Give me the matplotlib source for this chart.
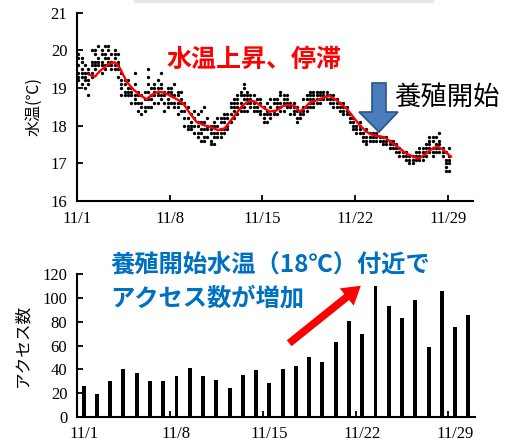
import numpy as np
import matplotlib
matplotlib.use('Agg')
import matplotlib.pyplot as plt
from matplotlib.patches import Polygon
from matplotlib.transforms import IdentityTransform

plt.rcParams['font.family'] = ['Noto Sans CJK JP', 'DejaVu Sans']

# --- top chart: water temperature (days since 11/1) ---
dot_start, dot_step = 0.1, 0.25
dot_temps = [
    [19.2, 19.3, 19.4, 19.6, 19.8, 19.9], [19.1, 19.3, 19.4, 19.5, 19.7, 19.8],
    [19.0, 19.2, 19.3, 19.4, 19.6], [18.8, 19.1, 19.2, 19.4, 19.5],
    [19.3, 19.4, 19.6, 19.7, 20.0], [19.5, 19.6, 19.7, 19.9, 20.0],
    [19.6, 19.7, 19.8, 20.1], [19.4, 19.6, 19.7, 19.9, 20.0],
    [19.5, 19.6, 19.8, 19.9, 20.1], [19.6, 19.7, 19.8, 20.0, 20.1],
    [19.5, 19.6, 19.7, 19.9], [19.5, 19.6, 19.8, 19.9, 20.0],
    [19.3, 19.5, 19.6, 19.7, 19.9], [18.8, 19.0, 19.1, 19.2, 19.4],
    [18.8, 18.9, 19.1, 19.2], [18.8, 18.9, 19.0, 19.2],
    [18.6, 18.8, 18.9, 19.0], [18.6, 18.7, 18.8, 19.1, 19.4],
    [18.4, 18.6, 18.8, 18.9], [18.3, 18.5, 18.6, 18.8],
    [18.4, 18.5, 18.7, 18.9], [18.5, 18.7, 18.9, 19.1, 19.3, 19.5],
    [18.5, 18.7, 18.8, 19.0], [18.6, 18.8, 18.9, 19.0, 19.1],
    [18.6, 18.8, 18.9, 19.0, 19.2], [18.7, 18.8, 19.0, 19.1, 19.4],
    [18.4, 18.6, 18.8, 18.9], [18.5, 18.6, 18.7, 18.9, 19.0],
    [18.6, 18.8, 18.9, 19.0], [18.5, 18.6, 18.8, 19.1],
    [18.3, 18.5, 18.6, 18.8, 18.9], [18.4, 18.6, 18.7, 18.9],
    [18.0, 18.2, 18.4, 18.6], [17.9, 18.0, 18.2, 18.5],
    [17.9, 18.0, 18.1, 18.3], [17.8, 18.0, 18.2, 18.4],
    [17.7, 17.8, 18.0, 18.1, 18.3], [17.6, 17.8, 17.9, 18.1, 18.4],
    [17.6, 17.7, 17.9, 18.1, 18.5], [17.7, 17.9, 18.0, 18.2],
    [17.5, 17.6, 17.8, 17.9, 18.0], [17.5, 17.7, 17.8, 18.0, 18.1],
    [17.7, 17.8, 18.0, 18.2], [17.7, 17.8, 17.9, 18.1, 18.2],
    [17.8, 17.9, 18.1, 18.2, 18.3], [17.9, 18.0, 18.2, 18.3],
    [18.1, 18.3, 18.5, 18.6], [18.2, 18.4, 18.5, 18.6, 18.7],
    [18.3, 18.5, 18.6, 18.7, 18.8], [18.4, 18.5, 18.6, 18.8, 18.9],
    [18.4, 18.5, 18.7, 18.8, 19.0, 19.1], [18.4, 18.6, 18.7, 18.8, 18.9],
    [18.5, 18.6, 18.7, 18.8], [18.4, 18.5, 18.6, 18.8],
    [18.4, 18.5, 18.7], [18.3, 18.4, 18.6, 18.7],
    [18.1, 18.2, 18.3, 18.5], [18.1, 18.3, 18.4, 18.6],
    [18.2, 18.3, 18.5, 18.7], [18.3, 18.4, 18.6, 18.7],
    [18.3, 18.5, 18.6, 18.7], [18.4, 18.5, 18.6, 18.8, 18.9],
    [18.4, 18.6, 18.7, 18.8], [18.5, 18.6, 18.7, 18.8],
    [18.3, 18.5, 18.6], [18.3, 18.4, 18.5, 18.6],
    [18.1, 18.2, 18.4, 18.5], [18.2, 18.3, 18.4],
    [18.3, 18.4, 18.5, 18.7], [18.4, 18.5, 18.7, 18.8],
    [18.5, 18.6, 18.7, 18.8, 18.9], [18.5, 18.6, 18.7, 18.8, 18.9],
    [18.6, 18.7, 18.8, 18.9], [18.6, 18.7, 18.8, 18.9],
    [18.7, 18.8, 18.9], [18.7, 18.8, 18.9],
    [18.6, 18.7, 18.8], [18.5, 18.6, 18.7, 18.8],
    [18.5, 18.6, 18.7], [18.4, 18.5, 18.6],
    [18.3, 18.4, 18.5, 18.6], [18.3, 18.4, 18.5],
    [18.1, 18.2, 18.3], [17.9, 18.0, 18.1, 18.2],
    [17.8, 17.9, 18.0], [17.8, 17.9, 18.0, 18.1],
    [17.6, 17.7, 17.8], [17.5, 17.6, 17.7, 17.9],
    [17.6, 17.7, 17.8], [17.6, 17.7, 17.8],
    [17.6, 17.7, 17.8], [17.6, 17.7],
    [17.5, 17.6, 17.7], [17.5, 17.6, 17.7],
    [17.4, 17.5, 17.6], [17.4, 17.5, 17.6],
    [17.3, 17.4, 17.5], [17.2, 17.3, 17.4],
    [17.2, 17.3], [17.1, 17.2, 17.3],
    [17.0, 17.1, 17.2], [17.0, 17.1, 17.2],
    [17.1, 17.2, 17.3], [17.1, 17.2, 17.3, 17.4],
    [17.1, 17.2, 17.3, 17.4], [17.2, 17.3, 17.4, 17.5],
    [17.3, 17.4, 17.5, 17.6, 17.7], [17.2, 17.3, 17.4, 17.6, 17.7],
    [17.3, 17.4, 17.5, 17.7], [17.3, 17.4, 17.5, 17.6, 17.8],
    [17.2, 17.3, 17.4], [16.8, 16.9, 17.0, 17.1, 17.3],
    [16.8, 17.0, 17.1, 17.2, 17.4],
]

avg_days = [0.93, 1.36, 1.73, 2.49, 2.86, 3.24, 3.74, 4.25, 4.75, 5.25, 5.63, 6.13,
            6.63, 7.14, 7.64, 8.02, 8.52, 9.02, 9.52, 10.15, 10.65, 11.16, 11.53,
            12.04, 12.54, 13.04, 13.42, 14.05, 14.55, 15.05, 15.55, 16.06, 16.43,
            16.81, 17.19, 17.56, 18.19, 18.69, 19.07, 19.57, 20.33, 20.83, 21.33,
            21.83, 22.34, 22.96, 23.34, 23.84, 24.35, 24.85, 25.48, 25.85, 26.36,
            26.86, 27.24, 27.61, 27.99, 28.24]
avg_temps = [19.35, 19.30, 19.45, 19.65, 19.68, 19.52, 19.17, 18.96, 18.81, 18.70,
             18.81, 18.90, 18.87, 18.77, 18.68, 18.59, 18.33, 18.10, 18.02, 17.95,
             17.88, 17.93, 18.10, 18.33, 18.55, 18.66, 18.64, 18.48, 18.37, 18.40,
             18.52, 18.55, 18.52, 18.37, 18.46, 18.61, 18.68, 18.75, 18.79, 18.68,
             18.46, 18.24, 18.02, 17.84, 17.75, 17.71, 17.66, 17.53, 17.40, 17.26,
             17.16, 17.13, 17.26, 17.40, 17.44, 17.37, 17.25, 17.18]

date_ticks = [0, 7, 14, 21, 28]
date_labels = ['11/1', '11/8', '11/15', '11/22', '11/29']

# --- bottom chart: daily access count ---
access = [26, 19, 30, 40, 37, 30, 30, 34, 41, 34, 31, 24, 35, 39, 28,
          40, 43, 50, 46, 63, 81, 70, 110, 93, 83, 98, 59, 106, 76, 86]

W, H = 505, 448
fig = plt.figure(figsize=(W / 100, H / 100), dpi=100)

def fx(px):
    return px / W

def fy(py):
    return 1 - py / H

serif = 'Liberation Serif'

# top axes
ax1 = fig.add_axes([fx(77), fy(201), fx(473) - fx(77), fy(12.5) - fy(201)])
dx, dy = [], []
for k, col in enumerate(dot_temps):
    for t in col:
        dx.append(dot_start + dot_step * k)
        dy.append(t)
ax1.plot(dx, dy, 'o', color='black', markersize=2.4, markeredgewidth=0, zorder=2)
ax1.plot(avg_days, avg_temps, '-', color='#FF0000', linewidth=1.7, zorder=3)
ax1.set_xlim(0, 29.9)
ax1.set_ylim(16, 21)
ax1.set_yticks([16, 17, 18, 19, 20, 21])
ax1.set_xticks(date_ticks)
ax1.set_xticklabels(date_labels)
ax1.set_ylabel('水温(℃)', fontsize=11.5, labelpad=6)

# bottom axes
ax2 = fig.add_axes([fx(77), fy(416.7), fx(475) - fx(77), fy(274.3) - fy(416.7)])
xpos = np.arange(len(access)) + 0.5
ax2.bar(xpos, access, width=0.3, color='black', zorder=2)
ax2.set_xlim(0, 30)
ax2.set_ylim(0, 120)
ax2.set_yticks(range(0, 121, 20))
ax2.set_xticks(date_ticks)
ax2.set_xticklabels([])
ax2.set_xticks([d + 0.5 for d in date_ticks], minor=True)
ax2.set_xticklabels(date_labels, minor=True)
ax2.tick_params(axis='x', which='minor', length=0, pad=7)
ax2.set_ylabel('アクセス数', fontsize=12, labelpad=8)

for ax in (ax1, ax2):
    for s in ('top', 'right'):
        ax.spines[s].set_visible(False)
    for s in ('left', 'bottom'):
        ax.spines[s].set_linewidth(1.5)
    ax.tick_params(axis='both', which='major', direction='in', length=4, width=1.3,
                   pad=7)
    for lab in ax.get_xticklabels(which='both') + ax.get_yticklabels():
        lab.set_family(serif)
        lab.set_fontsize(12)

# annotations
fig.text(fx(254), fy(60), '水温上昇、停滞', color='#FF0000', fontsize=18,
         fontweight='bold', ha='center', va='center')
fig.text(fx(447), fy(97), '養殖開始', color='black', fontsize=19,
         ha='center', va='center')
fig.text(fx(110), fy(265), '養殖開始水温（18℃）付近で', color='#0070C0', fontsize=17.5,
         fontweight='bold', ha='left', va='center')
fig.text(fx(110), fy(298), 'アクセス数が増加', color='#0070C0', fontsize=17.5,
         fontweight='bold', ha='left', va='center')

# blue block arrow (pixel coordinates, y measured from top)
arrow_px = [(372, 83), (386, 83), (386, 112), (398, 112), (379, 132),
            (359, 112), (372, 112)]
blue = Polygon([(x, H - y) for x, y in arrow_px], closed=True,
               facecolor='#4A7EBB', edgecolor='#2F528F', linewidth=1.2,
               transform=IdentityTransform(), zorder=10)
fig.add_artist(blue)

# red arrow
fig.add_artist(matplotlib.patches.FancyArrowPatch(
    (287, H - 345), (363, H - 284), transform=IdentityTransform(),
    arrowstyle='simple,head_width=1.6,head_length=1.3,tail_width=0.55',
    mutation_scale=10, color='#FF0000', linewidth=0, zorder=10))

# faint shadow line at top
fig.add_artist(plt.Line2D([fx(135), fx(432)], [fy(1), fy(1)], color='#e6e6e6',
                          linewidth=2.5, transform=fig.transFigure))

fig.savefig('out.png', dpi=100)
